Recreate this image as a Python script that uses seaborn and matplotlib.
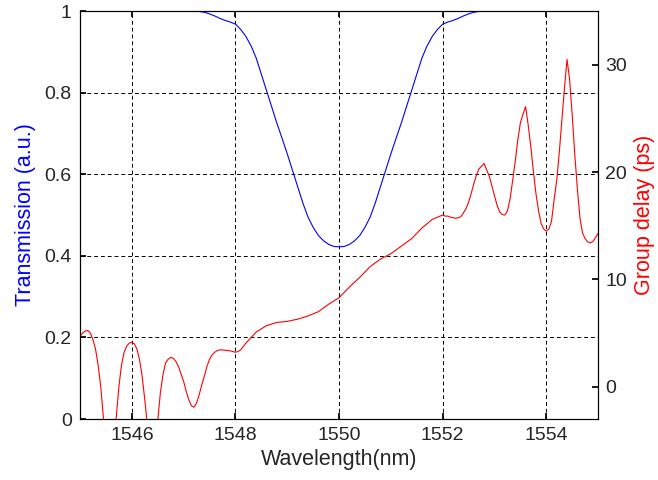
import matplotlib
matplotlib.use("Agg")
import matplotlib.pyplot as plt
import seaborn as sns
from matplotlib.ticker import FuncFormatter

sns.set_theme(style="white")
plt.rcParams["font.family"] = ["Liberation Sans", "DejaVu Sans"]

# transmission: wavelength grid (nm), 0.1 nm steps
wavelength = [
    1545.0, 1545.1, 1545.2, 1545.3, 1545.4, 1545.5, 1545.6, 1545.7, 1545.8, 1545.9,
    1546.0, 1546.1, 1546.2, 1546.3, 1546.4, 1546.5, 1546.6, 1546.7, 1546.8, 1546.9,
    1547.0, 1547.1, 1547.2, 1547.3, 1547.4, 1547.5, 1547.6, 1547.7, 1547.8, 1547.9,
    1548.0, 1548.1, 1548.2, 1548.3, 1548.4, 1548.5, 1548.6, 1548.7, 1548.8, 1548.9,
    1549.0, 1549.1, 1549.2, 1549.3, 1549.4, 1549.5, 1549.6, 1549.7, 1549.8, 1549.9,
    1550.0, 1550.1, 1550.2, 1550.3, 1550.4, 1550.5, 1550.6, 1550.7, 1550.8, 1550.9,
    1551.0, 1551.1, 1551.2, 1551.3, 1551.4, 1551.5, 1551.6, 1551.7, 1551.8, 1551.9,
    1552.0, 1552.1, 1552.2, 1552.3, 1552.4, 1552.5, 1552.6, 1552.7, 1552.8, 1552.9,
    1553.0, 1553.1, 1553.2, 1553.3, 1553.4, 1553.5, 1553.6, 1553.7, 1553.8, 1553.9,
    1554.0, 1554.1, 1554.2, 1554.3, 1554.4, 1554.5, 1554.6, 1554.7, 1554.8, 1554.9,
    1555.0,
]

transmission = [
    1.0, 1.0, 1.0, 1.0, 1.0, 1.0, 1.0, 1.0, 1.0, 1.0,
    1.0, 1.0, 1.0, 1.0, 1.0, 1.0, 1.0, 1.0, 1.0, 1.0,
    1.0, 1.0, 1.0, 0.999, 0.997, 0.993, 0.988, 0.982, 0.977, 0.973,
    0.968, 0.955, 0.938, 0.915, 0.885, 0.845, 0.805, 0.765, 0.725, 0.688,
    0.65, 0.61, 0.57, 0.53, 0.495, 0.47, 0.45, 0.437, 0.428, 0.423,
    0.422, 0.423, 0.428, 0.437, 0.45, 0.47, 0.495, 0.53, 0.57, 0.61,
    0.65, 0.688, 0.725, 0.765, 0.805, 0.845, 0.885, 0.915, 0.938, 0.955,
    0.968, 0.973, 0.977, 0.982, 0.988, 0.993, 0.997, 0.999, 1.0, 1.0,
    1.0, 1.0, 1.0, 1.0, 1.0, 1.0, 1.0, 1.0, 1.0, 1.0,
    1.0, 1.0, 1.0, 1.0, 1.0, 1.0, 1.0, 1.0, 1.0, 1.0,
    1.0,
]

# group delay: finer sampling where the curve ripples
gd_wavelength = [
    1545.00, 1545.05, 1545.10, 1545.15, 1545.20, 1545.25, 1545.30, 1545.35, 1545.40, 1545.45,
    1545.50, 1545.55, 1545.60, 1545.65, 1545.70, 1545.75, 1545.80, 1545.85, 1545.90, 1545.95,
    1546.00, 1546.05, 1546.10, 1546.15, 1546.20, 1546.25, 1546.30, 1546.35, 1546.40, 1546.45,
    1546.50, 1546.55, 1546.60, 1546.65, 1546.70, 1546.75, 1546.80, 1546.85, 1546.90, 1546.95,
    1547.00, 1547.05, 1547.10, 1547.15, 1547.20, 1547.25, 1547.30, 1547.35, 1547.40, 1547.45,
    1547.50, 1547.55, 1547.60, 1547.65, 1547.70, 1547.75, 1547.80, 1547.85, 1547.90, 1547.95,
    1548.00, 1548.05, 1548.10, 1548.15, 1548.20,
    1548.40, 1548.60, 1548.80, 1549.00, 1549.20, 1549.40, 1549.60, 1549.80, 1550.00,
    1550.20, 1550.40, 1550.60, 1550.80, 1551.00, 1551.20, 1551.40, 1551.60, 1551.80,
    1552.00, 1552.05, 1552.10, 1552.15, 1552.20, 1552.25, 1552.30, 1552.35, 1552.40, 1552.45,
    1552.50, 1552.55, 1552.60, 1552.65, 1552.70, 1552.75, 1552.80, 1552.85, 1552.90, 1552.95,
    1553.00, 1553.05, 1553.10, 1553.15, 1553.20, 1553.25, 1553.30, 1553.35, 1553.40, 1553.45,
    1553.50, 1553.55, 1553.60, 1553.65, 1553.70, 1553.75, 1553.80, 1553.85, 1553.90, 1553.95,
    1554.00, 1554.05, 1554.10, 1554.15, 1554.20, 1554.25, 1554.30, 1554.35, 1554.40, 1554.45,
    1554.50, 1554.55, 1554.60, 1554.65, 1554.70, 1554.75, 1554.80, 1554.85, 1554.90, 1554.95,
    1555.00,
]

group_delay = [
    4.7, 5.0, 5.2, 5.25, 5.0, 4.4, 3.5, 2.0, 0.0, -2.8,
    -7.0, -12.0, -12.0, -6.0, -2.8, 0.0, 2.0, 3.2, 3.8, 4.06,
    4.16, 4.0, 3.5, 2.5, 0.96, -1.2, -3.5, -9.0, -14.0, -8.0,
    -3.2, -0.6, 1.1, 2.2, 2.57, 2.73, 2.67, 2.36, 1.9, 1.2,
    0.5, -0.43, -1.2, -1.77, -1.9, -1.5, -0.74, 0.19, 1.0, 1.9,
    2.57, 2.98, 3.22, 3.38, 3.44, 3.44, 3.41, 3.38, 3.35, 3.29,
    3.22, 3.29, 3.44, 3.75, 4.06,
    5.1, 5.7, 6.0, 6.1, 6.3, 6.6, 7.0, 7.7, 8.3,
    9.3, 10.2, 11.2, 11.9, 12.4, 13.1, 13.8, 14.8, 15.6,
    16.0, 15.9, 15.9, 15.8, 15.75, 15.7, 15.75, 15.85, 16.2, 16.6,
    17.2, 18.0, 18.9, 19.7, 20.3, 20.55, 20.8, 20.2, 19.6, 18.7,
    17.8, 16.9, 16.3, 16.05, 16.0, 16.4, 17.5, 19.2, 21.0, 23.0,
    24.6, 25.4, 26.1, 24.4, 22.4, 20.1, 18.0, 16.4, 15.2, 14.7,
    14.5, 14.7, 15.4, 17.4, 19.2, 21.8, 24.8, 27.8, 30.5, 28.6,
    25.3, 21.6, 18.4, 15.7, 14.3, 13.8, 13.5, 13.4, 13.55, 13.9,
    14.3,
]

x_ticks = [1546, 1548, 1550, 1552, 1554]
t_ticks = [0, 0.2, 0.4, 0.6, 0.8, 1]
gd_ticks = [0, 10, 20, 30]

fig = plt.figure(figsize=(6.58, 4.80), dpi=100)
ax = fig.add_axes([0.1216, 0.127, 0.7874, 0.850])

sns.lineplot(x=wavelength, y=transmission, ax=ax, color="blue", linewidth=0.8)
ax.set_xlim(1545, 1555)
ax.set_ylim(0, 1)
ax.set_xticks(x_ticks)
ax.set_yticks(t_ticks)
ax.yaxis.set_major_formatter(FuncFormatter(lambda v, p: "%g" % v))
ax.grid(True, color="black", linestyle=(0, (4, 3)), linewidth=0.7)
ax.tick_params(direction="in", length=4, labelsize=14, top=True, right=True,
               left=True, bottom=True, pad=6, color="black")
ax.set_xlabel("Wavelength(nm)", fontsize=15.5, labelpad=3)
ax.set_ylabel("Transmission (a.u.)", fontsize=15.5, color="blue", labelpad=6)

ax2 = ax.twinx()
sns.lineplot(x=gd_wavelength, y=group_delay, ax=ax2, color="red", linewidth=0.8)
ax2.set_ylim(-3, 35)
ax2.set_yticks(gd_ticks)
ax2.grid(False)
ax2.tick_params(direction="in", length=4, labelsize=14, pad=5, right=True, color="black")
ax2.set_ylabel("Group delay (ps)", fontsize=15.5, color="red", labelpad=5)

for a in (ax, ax2):
    for s in a.spines.values():
        s.set_color("black")
        s.set_linewidth(0.8)

fig.savefig("out.png", dpi=100)
